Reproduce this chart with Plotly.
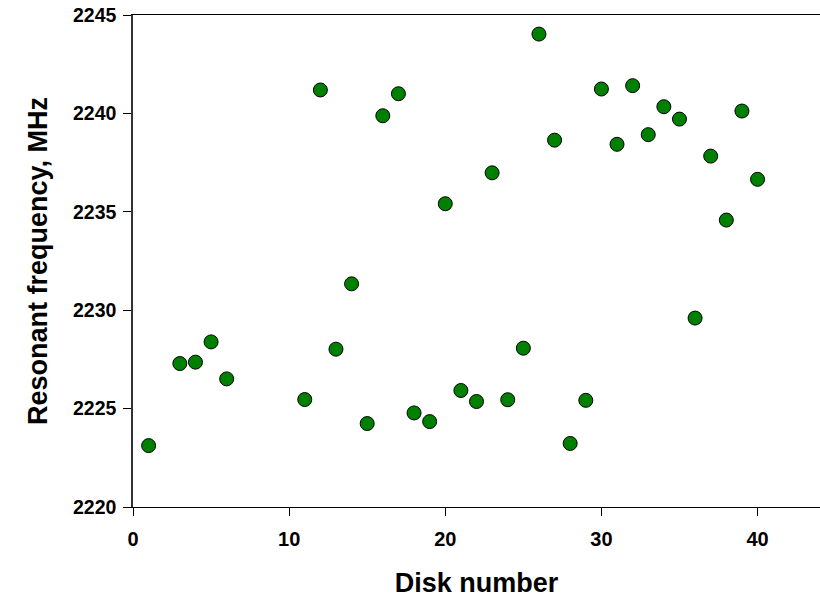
import plotly.graph_objects as go

# Resonant frequency measured for each disk
disk_number = [1, 3, 4, 5, 6, 11, 12, 13, 14, 15, 16, 17, 18, 19, 20, 21, 22, 23,
               24, 25, 26, 27, 28, 29, 30, 31, 32, 33, 34, 35, 36, 37, 38, 39, 40]
frequency_mhz = [2223.12, 2227.29, 2227.36, 2228.39, 2226.51, 2225.46, 2241.19,
                 2228.02, 2231.34, 2224.24, 2239.88, 2241.00, 2224.78, 2224.34,
                 2235.41, 2225.92, 2225.36, 2236.98, 2225.45, 2228.07, 2244.03,
                 2238.64, 2223.23, 2225.42, 2241.24, 2238.43, 2241.41, 2238.92,
                 2240.34, 2239.71, 2229.60, 2237.83, 2234.58, 2240.12, 2236.65]

x_ticks = [0, 10, 20, 30, 40]
y_ticks = [2220, 2225, 2230, 2235, 2240, 2245]

FONT = "Arial, Liberation Sans, sans-serif"

fig = go.Figure(
    go.Scatter(
        x=disk_number,
        y=frequency_mhz,
        mode="markers",
        marker=dict(size=14, color="#008000", line=dict(color="black", width=1)),
        cliponaxis=False,
    )
)

fig.update_layout(
    width=820,
    height=598,
    margin=dict(l=133, r=0, t=15, b=91),
    paper_bgcolor="white",
    plot_bgcolor="white",
    showlegend=False,
    font=dict(family=FONT, color="black"),
)

fig.update_xaxes(
    range=[0, 44],
    tickvals=x_ticks,
    ticktext=[str(v) for v in x_ticks],
    ticks="outside",
    ticklen=8,
    tickwidth=1,
    tickcolor="black",
    ticklabelstandoff=6,
    showline=True,
    linecolor="black",
    linewidth=1,
    mirror=True,
    showgrid=False,
    zeroline=False,
    tickfont=dict(family=FONT, size=20, color="black", weight="bold"),
    title=dict(text="<b>Disk number</b>",
               font=dict(family=FONT, size=27, color="black"),
               standoff=24),
)

fig.update_yaxes(
    range=[2220, 2245],
    tickvals=y_ticks,
    ticktext=[str(v) for v in y_ticks],
    ticks="outside",
    ticklen=8,
    tickwidth=1,
    tickcolor="black",
    ticklabelstandoff=3,
    showline=True,
    linecolor="#333333",
    linewidth=1.5,
    mirror=False,
    showgrid=False,
    zeroline=False,
    tickfont=dict(family=FONT, size=19.5, color="#000000", weight=700),
    title=dict(text="<b>Resonant frequency, MHz</b>",
               font=dict(family=FONT, size=27, color="black"),
               standoff=18),
)

fig.write_html("out.html")
